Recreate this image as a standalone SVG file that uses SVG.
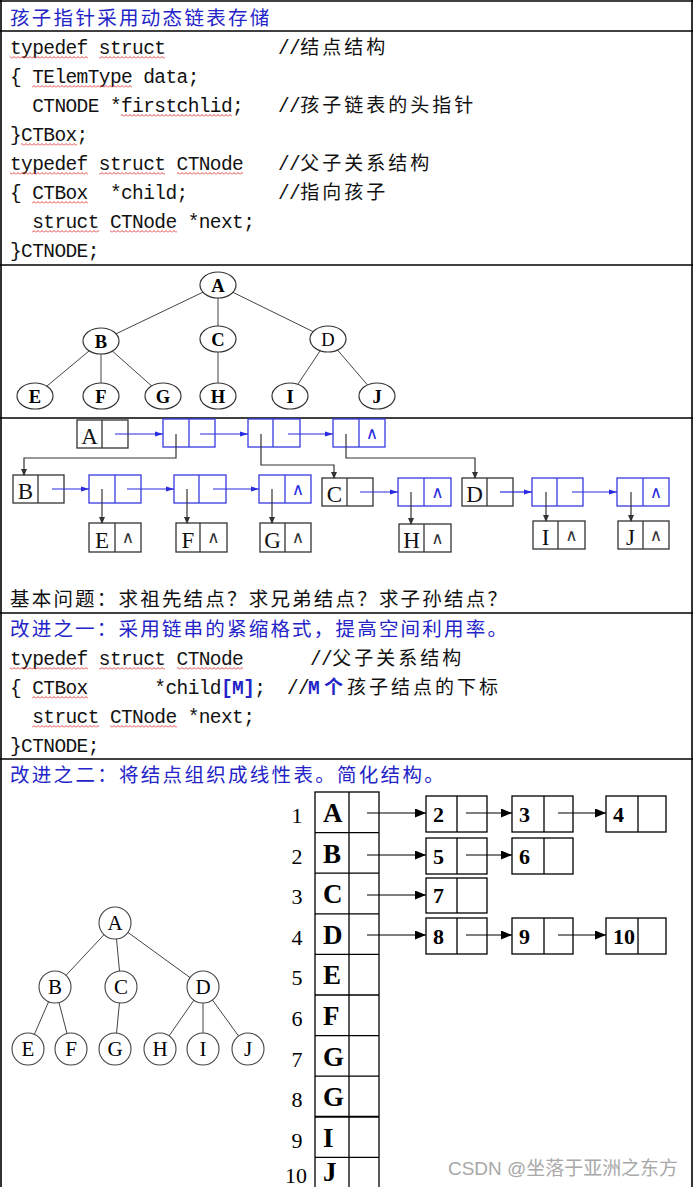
<svg xmlns="http://www.w3.org/2000/svg" width="695" height="1187" viewBox="0 0 695 1187">
<defs>
<style>
.code{font-family:"Liberation Mono","Noto Sans CJK SC",monospace;font-size:19.5px;letter-spacing:-0.6px;fill:#111;white-space:pre}
.cj{font-family:"Noto Sans CJK SC",sans-serif;font-size:19px;letter-spacing:3px}
.hd{font-family:"Noto Sans CJK SC",sans-serif;font-size:19.5px;letter-spacing:2.3px;fill:#2424c8}
.q{font-family:"Noto Sans CJK SC",sans-serif;font-size:19.5px;letter-spacing:2.2px;fill:#111}
.blue{fill:#2424c8;font-weight:bold}
.frame{stroke:#000;stroke-width:1.6;fill:none}
.tedge{stroke:#444;stroke-width:1;fill:none}
.tnode{fill:#fff;stroke:#333;stroke-width:1.2}
.tlab{font-family:"Liberation Serif",serif;font-size:18.5px;font-weight:bold;text-anchor:middle;fill:#000}
.bk{fill:#fff;stroke:#333;stroke-width:1.3}
.bl{fill:#fff;stroke:#3a3ae0;stroke-width:1.3}
.bkd{stroke:#333;stroke-width:1.3}
.bld{stroke:#3a3ae0;stroke-width:1.3}
.ll{font-family:"Liberation Serif",serif;font-size:23px;text-anchor:middle;fill:#111}
.nil{font-family:"DejaVu Sans",sans-serif;font-size:17px;text-anchor:middle}
.ablue{stroke:#2a2ae0;stroke-width:1.2;fill:none;marker-end:url(#mb)}
.ablk{stroke:#333;stroke-width:1.2;fill:none;marker-end:url(#mk)}
.abig{stroke:#000;stroke-width:1.2;fill:none;marker-end:url(#mbig)}
.tc{fill:#fff;stroke:#000;stroke-width:1.3}
.tl{font-family:"Liberation Serif",serif;font-size:27px;font-weight:bold;fill:#000}
.rn{font-family:"Liberation Serif",serif;font-size:22px;text-anchor:middle;fill:#000}
.bn{font-family:"Liberation Serif",serif;font-size:22px;font-weight:bold;fill:#000}
.cir{fill:#fff;stroke:#444;stroke-width:1.1}
.cl{font-family:"Liberation Serif",serif;font-size:21px;text-anchor:middle;fill:#000}
.wv{fill:url(#wv)}
</style>
<pattern id="wv" width="4" height="3" patternUnits="userSpaceOnUse"><path d="M0,2.5 L2,0.5 L4,2.5" fill="none" stroke="#e03030" stroke-width="0.9"/></pattern>
<marker id="mb" markerWidth="8" markerHeight="6" refX="8" refY="3" orient="auto" markerUnits="userSpaceOnUse"><path d="M0,0.5 L8,3 L0,5.5 z" fill="#2a2ae0"/></marker>
<marker id="mk" markerWidth="7" markerHeight="7" refX="6" refY="3.5" orient="auto" markerUnits="userSpaceOnUse"><path d="M0,0.5 L7,3.5 L0,6.5 z" fill="#333"/></marker>
<marker id="mbig" markerWidth="11" markerHeight="9" refX="11" refY="4.5" orient="auto" markerUnits="userSpaceOnUse"><path d="M0,0 L11,4.5 L0,9 z" fill="#000"/></marker>
</defs>

<g id="frame">
<line class="frame" x1="1" y1="0" x2="1" y2="1187"/>
<line class="frame" x1="692" y1="0" x2="692" y2="1187"/>
<line class="frame" x1="0" y1="1" x2="693" y2="1"/>
<line class="frame" x1="0" y1="31" x2="693" y2="31"/>
<line class="frame" x1="0" y1="265" x2="693" y2="265"/>
<line class="frame" x1="0" y1="418" x2="693" y2="418"/>
<line class="frame" x1="0" y1="613" x2="693" y2="613"/>
<line class="frame" x1="0" y1="759" x2="693" y2="759"/>
</g>

<g id="title1">
<text class="hd" x="10" y="25">孩子指针采用动态链表存储</text>
</g>

<g id="code1">
<text class="code" x="10" y="54" xml:space="preserve">typedef struct</text>
<text class="code" x="278" y="54">//<tspan class="cj">结点结构</tspan></text>
<text class="code" x="10" y="83" xml:space="preserve">{ TElemType data;</text>
<text class="code" x="10" y="112" xml:space="preserve">  CTNODE *firstchlid;</text>
<text class="code" x="278" y="112">//<tspan class="cj">孩子链表的头指针</tspan></text>
<text class="code" x="10" y="141">}CTBox;</text>
<text class="code" x="10" y="170" xml:space="preserve">typedef struct CTNode</text>
<text class="code" x="278" y="170">//<tspan class="cj">父子关系结构</tspan></text>
<text class="code" x="10" y="199" xml:space="preserve">{ CTBox  *child;</text>
<text class="code" x="278" y="199">//<tspan class="cj">指向孩子</tspan></text>
<text class="code" x="10" y="228" xml:space="preserve">  struct CTNode *next;</text>
<text class="code" x="10" y="257">}CTNODE;</text>
<g id="spell1">
<rect class="wv" transform="translate(0,56)" x="10" y="0" width="78" height="3"/>
<rect class="wv" transform="translate(0,56)" x="99" y="0" width="66" height="3"/>
<rect class="wv" transform="translate(0,85)" x="32" y="0" width="100" height="3"/>
<rect class="wv" transform="translate(0,114)" x="121" y="0" width="111" height="3"/>
<rect class="wv" transform="translate(0,143)" x="21" y="0" width="56" height="3"/>
<rect class="wv" transform="translate(0,172)" x="10" y="0" width="78" height="3"/>
<rect class="wv" transform="translate(0,172)" x="99" y="0" width="66" height="3"/>
<rect class="wv" transform="translate(0,172)" x="177" y="0" width="66" height="3"/>
<rect class="wv" transform="translate(0,201)" x="32" y="0" width="56" height="3"/>
<rect class="wv" transform="translate(0,230)" x="32" y="0" width="67" height="3"/>
<rect class="wv" transform="translate(0,230)" x="110" y="0" width="67" height="3"/>
</g>
</g>

<g id="tree1">
<g id="tree1-edges">
<line class="tedge" x1="218" y1="285" x2="101" y2="341"/>
<line class="tedge" x1="218" y1="285" x2="218" y2="339"/>
<line class="tedge" x1="218" y1="285" x2="328" y2="339"/>
<line class="tedge" x1="101" y1="341" x2="35" y2="396"/>
<line class="tedge" x1="101" y1="341" x2="101" y2="396"/>
<line class="tedge" x1="101" y1="341" x2="163" y2="396"/>
<line class="tedge" x1="218" y1="339" x2="218" y2="396"/>
<line class="tedge" x1="328" y1="339" x2="290" y2="396"/>
<line class="tedge" x1="328" y1="339" x2="377" y2="396"/>
</g>
<g id="t1-A"><ellipse class="tnode" cx="218" cy="285" rx="18" ry="13"/><text class="tlab" x="218" y="291.5">A</text></g>
<g id="t1-B"><ellipse class="tnode" cx="101" cy="341" rx="18" ry="13"/><text class="tlab" x="101" y="347.5">B</text></g>
<g id="t1-C"><ellipse class="tnode" cx="218" cy="339" rx="18" ry="13"/><text class="tlab" x="218" y="345.5">C</text></g>
<g id="t1-D"><ellipse class="tnode" cx="328" cy="339" rx="18" ry="13"/><text class="tlab" x="328" y="345.5" style="font-weight:normal">D</text></g>
<g id="t1-E"><ellipse class="tnode" cx="35" cy="396" rx="18" ry="13"/><text class="tlab" x="35" y="402.5">E</text></g>
<g id="t1-F"><ellipse class="tnode" cx="101" cy="396" rx="18" ry="13"/><text class="tlab" x="101" y="402.5">F</text></g>
<g id="t1-G"><ellipse class="tnode" cx="163" cy="396" rx="18" ry="13"/><text class="tlab" x="163" y="402.5">G</text></g>
<g id="t1-H"><ellipse class="tnode" cx="218" cy="396" rx="18" ry="13"/><text class="tlab" x="218" y="402.5">H</text></g>
<g id="t1-I"><ellipse class="tnode" cx="290" cy="396" rx="18" ry="13"/><text class="tlab" x="290" y="402.5">I</text></g>
<g id="t1-J"><ellipse class="tnode" cx="377" cy="396" rx="18" ry="13"/><text class="tlab" x="377" y="402.5">J</text></g>
</g>

<g id="linked">
<g id="ll-A"><rect class="bk" x="77" y="420" width="51" height="28"/><line class="bkd" x1="102" y1="420" x2="102" y2="448"/><text class="ll" x="89.5" y="444">A</text></g>
<g id="ll-a1"><rect class="bl" x="163" y="419" width="52" height="28"/><line class="bld" x1="189" y1="419" x2="189" y2="447"/></g>
<g id="ll-a2"><rect class="bl" x="248" y="419" width="52" height="28"/><line class="bld" x1="273" y1="419" x2="273" y2="447"/></g>
<g id="ll-a3"><rect class="bl" x="333" y="419" width="52" height="28"/><line class="bld" x1="359" y1="419" x2="359" y2="447"/><text class="nil" x="372" y="439" fill="#2a2ae0">∧</text></g>

<g id="ll-B"><rect class="bk" x="13" y="475" width="51" height="28"/><line class="bkd" x1="38" y1="475" x2="38" y2="503"/><text class="ll" x="25.5" y="499">B</text></g>
<g id="ll-b1"><rect class="bl" x="89" y="475" width="52" height="28"/><line class="bld" x1="115" y1="475" x2="115" y2="503"/></g>
<g id="ll-b2"><rect class="bl" x="174" y="475" width="52" height="28"/><line class="bld" x1="199" y1="475" x2="199" y2="503"/></g>
<g id="ll-b3"><rect class="bl" x="259" y="475" width="52" height="28"/><line class="bld" x1="285" y1="475" x2="285" y2="503"/><text class="nil" x="298" y="495" fill="#2a2ae0">∧</text></g>
<g id="ll-C"><rect class="bk" x="322" y="478" width="51" height="28"/><line class="bkd" x1="347" y1="478" x2="347" y2="506"/><text class="ll" x="334.5" y="502">C</text></g>
<g id="ll-c1"><rect class="bl" x="398" y="478" width="53" height="28"/><line class="bld" x1="424" y1="478" x2="424" y2="506"/><text class="nil" x="437.5" y="498" fill="#2a2ae0">∧</text></g>
<g id="ll-D"><rect class="bk" x="462" y="478" width="51" height="28"/><line class="bkd" x1="487" y1="478" x2="487" y2="506"/><text class="ll" x="474.5" y="502">D</text></g>
<g id="ll-d1"><rect class="bl" x="532" y="478" width="51" height="28"/><line class="bld" x1="557" y1="478" x2="557" y2="506"/></g>
<g id="ll-d2"><rect class="bl" x="617" y="478" width="52" height="28"/><line class="bld" x1="643" y1="478" x2="643" y2="506"/><text class="nil" x="656" y="498" fill="#2a2ae0">∧</text></g>

<g id="ll-E"><rect class="bk" x="89" y="523" width="52" height="29"/><line class="bkd" x1="115" y1="523" x2="115" y2="552"/><text class="ll" x="102" y="548">E</text><text class="nil" x="128" y="543" fill="#333">∧</text></g>
<g id="ll-F"><rect class="bk" x="176" y="523" width="51" height="29"/><line class="bkd" x1="200" y1="523" x2="200" y2="552"/><text class="ll" x="188" y="548">F</text><text class="nil" x="213.5" y="543" fill="#333">∧</text></g>
<g id="ll-G"><rect class="bk" x="260" y="523" width="51" height="29"/><line class="bkd" x1="285" y1="523" x2="285" y2="552"/><text class="ll" x="272.5" y="548">G</text><text class="nil" x="298" y="543" fill="#333">∧</text></g>
<g id="ll-H"><rect class="bk" x="399" y="524" width="52" height="28"/><line class="bkd" x1="424" y1="524" x2="424" y2="552"/><text class="ll" x="411.5" y="548">H</text><text class="nil" x="437.5" y="544" fill="#333">∧</text></g>
<g id="ll-I"><rect class="bk" x="533" y="521" width="52" height="28"/><line class="bkd" x1="558" y1="521" x2="558" y2="549"/><text class="ll" x="545.5" y="545">I</text><text class="nil" x="571.5" y="541" fill="#333">∧</text></g>
<g id="ll-J"><rect class="bk" x="618" y="521" width="51" height="28"/><line class="bkd" x1="643" y1="521" x2="643" y2="549"/><text class="ll" x="630.5" y="545">J</text><text class="nil" x="656" y="541" fill="#333">∧</text></g>

<g id="ll-connectors">
<path class="ablue" d="M115,434 H163"/>
<path class="ablue" d="M200,434 H248"/>
<path class="ablue" d="M288,434 H333"/>
<path class="ablk" d="M176,434 V458 H24 V475"/>
<path class="ablk" d="M261,434 V465 H334 V478"/>
<path class="ablk" d="M346,434 V458 H475 V478"/>
<path class="ablue" d="M52,489 H89"/>
<path class="ablue" d="M127,489 H174"/>
<path class="ablue" d="M213,489 H259"/>
<path class="ablue" d="M360,492 H398"/>
<path class="ablue" d="M500,492 H532"/>
<path class="ablue" d="M572,492 H617"/>
<path class="ablk" d="M102,489 V523"/>
<path class="ablk" d="M187,489 V523"/>
<path class="ablk" d="M272,489 V523"/>
<path class="ablk" d="M411,492 V524"/>
<path class="ablk" d="M546,492 V521"/>
<path class="ablk" d="M631,492 V521"/>
</g>
</g>

<g id="question">
<text class="q" x="10" y="606">基本问题：求祖先结点？求兄弟结点？求子孙结点？</text>
</g>

<g id="improve1">
<text class="hd" x="10" y="636" style="letter-spacing:2.2px">改进之一：采用链串的紧缩格式，提高空间利用率。</text>
<text class="code" x="10" y="665" xml:space="preserve">typedef struct CTNode</text>
<text class="code" x="310" y="665">//<tspan class="cj">父子关系结构</tspan></text>
<text class="code" x="10" y="694" xml:space="preserve">{ CTBox      *child<tspan class="blue">[M]</tspan>;</text>
<text class="code" x="287" y="694">//</text>
<text class="code blue" x="308" y="694">M</text>
<text class="cj" x="324" y="694" style="fill:#2424c8;font-weight:bold">个</text>
<text class="cj" x="347" y="694" style="fill:#111">孩子结点的下标</text>
<text class="code" x="10" y="723" xml:space="preserve">  struct CTNode *next;</text>
<text class="code" x="10" y="752">}CTNODE;</text>
<g id="spell2">
<rect class="wv" transform="translate(0,667)" x="10" y="0" width="78" height="3"/>
<rect class="wv" transform="translate(0,667)" x="99" y="0" width="66" height="3"/>
<rect class="wv" transform="translate(0,667)" x="177" y="0" width="66" height="3"/>
<rect class="wv" transform="translate(0,696)" x="32" y="0" width="56" height="3"/>
<rect class="wv" transform="translate(0,725)" x="32" y="0" width="67" height="3"/>
<rect class="wv" transform="translate(0,725)" x="110" y="0" width="67" height="3"/>
</g>
</g>

<g id="improve2">
<text class="hd" x="10" y="782">改进之二：将结点组织成线性表。简化结构。</text>
</g>

<g id="tree2">
<g id="tree2-edges">
<line class="tedge" x1="115" y1="923" x2="55" y2="987"/>
<line class="tedge" x1="115" y1="923" x2="121" y2="987"/>
<line class="tedge" x1="115" y1="923" x2="203" y2="987"/>
<line class="tedge" x1="55" y1="987" x2="28" y2="1049"/>
<line class="tedge" x1="55" y1="987" x2="71" y2="1049"/>
<line class="tedge" x1="121" y1="987" x2="115" y2="1049"/>
<line class="tedge" x1="203" y1="987" x2="160" y2="1049"/>
<line class="tedge" x1="203" y1="987" x2="203" y2="1049"/>
<line class="tedge" x1="203" y1="987" x2="248" y2="1049"/>
</g>
<g id="t2-A"><circle class="cir" cx="115" cy="923" r="16"/><text class="cl" x="115" y="930">A</text></g>
<g id="t2-B"><circle class="cir" cx="55" cy="987" r="16"/><text class="cl" x="55" y="994">B</text></g>
<g id="t2-C"><circle class="cir" cx="121" cy="987" r="16"/><text class="cl" x="121" y="994">C</text></g>
<g id="t2-D"><circle class="cir" cx="203" cy="987" r="16"/><text class="cl" x="203" y="994">D</text></g>
<g id="t2-E"><circle class="cir" cx="28" cy="1049" r="16"/><text class="cl" x="28" y="1056">E</text></g>
<g id="t2-F"><circle class="cir" cx="71" cy="1049" r="16"/><text class="cl" x="71" y="1056">F</text></g>
<g id="t2-G"><circle class="cir" cx="115" cy="1049" r="16"/><text class="cl" x="115" y="1056">G</text></g>
<g id="t2-H"><circle class="cir" cx="160" cy="1049" r="16"/><text class="cl" x="160" y="1056">H</text></g>
<g id="t2-I"><circle class="cir" cx="203" cy="1049" r="16"/><text class="cl" x="203" y="1056">I</text></g>
<g id="t2-J"><circle class="cir" cx="248" cy="1049" r="16"/><text class="cl" x="248" y="1056">J</text></g>
</g>

<g id="table">
<rect class="tc" x="315" y="792" width="64" height="406"/>
<line class="bkd" x1="349" y1="792" x2="349" y2="1198" style="stroke:#000"/>
<g style="stroke:#000;stroke-width:1.3">
<line x1="315" y1="832.6" x2="379" y2="832.6"/>
<line x1="315" y1="873.2" x2="379" y2="873.2"/>
<line x1="315" y1="913.8" x2="379" y2="913.8"/>
<line x1="315" y1="954.4" x2="379" y2="954.4"/>
<line x1="315" y1="995" x2="379" y2="995"/>
<line x1="315" y1="1035.6" x2="379" y2="1035.6"/>
<line x1="315" y1="1076.2" x2="379" y2="1076.2"/>
<line x1="315" y1="1116.8" x2="379" y2="1116.8" stroke-width="2"/>
<line x1="315" y1="1157.4" x2="379" y2="1157.4"/>
</g>
<g id="row-labels">
<text class="rn" x="297" y="823">1</text>
<text class="rn" x="297" y="864">2</text>
<text class="rn" x="297" y="904">3</text>
<text class="rn" x="297" y="945">4</text>
<text class="rn" x="297" y="985">5</text>
<text class="rn" x="297" y="1026">6</text>
<text class="rn" x="297" y="1067">7</text>
<text class="rn" x="297" y="1107">8</text>
<text class="rn" x="297" y="1148">9</text>
<text class="rn" x="296" y="1183">10</text>
</g>
<g id="row-letters">
<text class="tl" x="323" y="822">A</text>
<text class="tl" x="323" y="863">B</text>
<text class="tl" x="323" y="903">C</text>
<text class="tl" x="323" y="944">D</text>
<text class="tl" x="323" y="984">E</text>
<text class="tl" x="323" y="1025">F</text>
<text class="tl" x="323" y="1066">G</text>
<text class="tl" x="323" y="1106">G</text>
<text class="tl" x="323" y="1147">I</text>
<text class="tl" x="323" y="1181">J</text>
</g>
</g>

<g id="child-lists">
<g id="c2"><rect class="tc" x="426" y="796" width="61" height="36"/><line class="bkd" x1="457" y1="796" x2="457" y2="832" style="stroke:#000"/><text class="bn" x="433" y="822">2</text></g>
<g id="c3"><rect class="tc" x="512" y="796" width="61" height="36"/><line class="bkd" x1="544" y1="796" x2="544" y2="832" style="stroke:#000"/><text class="bn" x="519" y="822">3</text></g>
<g id="c4"><rect class="tc" x="606" y="796" width="60" height="36"/><line class="bkd" x1="638" y1="796" x2="638" y2="832" style="stroke:#000"/><text class="bn" x="613" y="822">4</text></g>
<g id="c5"><rect class="tc" x="426" y="838" width="61" height="36"/><line class="bkd" x1="457" y1="838" x2="457" y2="874" style="stroke:#000"/><text class="bn" x="433" y="864">5</text></g>
<g id="c6"><rect class="tc" x="512" y="838" width="61" height="36"/><line class="bkd" x1="544" y1="838" x2="544" y2="874" style="stroke:#000"/><text class="bn" x="519" y="864">6</text></g>
<g id="c7"><rect class="tc" x="426" y="878" width="61" height="35"/><line class="bkd" x1="457" y1="878" x2="457" y2="913" style="stroke:#000"/><text class="bn" x="433" y="903">7</text></g>
<g id="c8"><rect class="tc" x="426" y="918" width="61" height="36"/><line class="bkd" x1="457" y1="918" x2="457" y2="954" style="stroke:#000"/><text class="bn" x="433" y="944">8</text></g>
<g id="c9"><rect class="tc" x="512" y="918" width="61" height="36"/><line class="bkd" x1="544" y1="918" x2="544" y2="954" style="stroke:#000"/><text class="bn" x="519" y="944">9</text></g>
<g id="c10"><rect class="tc" x="606" y="918" width="60" height="36"/><line class="bkd" x1="638" y1="918" x2="638" y2="954" style="stroke:#000"/><text class="bn" x="613" y="944">10</text></g>
</g>

<g id="connectors">
<path class="abig" d="M367,813 H426"/>
<path class="abig" d="M466,813 H512"/>
<path class="abig" d="M558,813 H606"/>
<path class="abig" d="M367,855 H426"/>
<path class="abig" d="M466,855 H512"/>
<path class="abig" d="M367,895 H426"/>
<path class="abig" d="M367,935 H426"/>
<path class="abig" d="M466,935 H512"/>
<path class="abig" d="M558,935 H606"/>
</g>

<g id="watermark">
<text x="448" y="1175" textLength="230" lengthAdjust="spacingAndGlyphs" style="font-family:'Liberation Sans','Noto Sans CJK SC',sans-serif;font-size:19px;fill:#a8a8a8">CSDN @坐落于亚洲之东方</text>
</g>
</svg>
